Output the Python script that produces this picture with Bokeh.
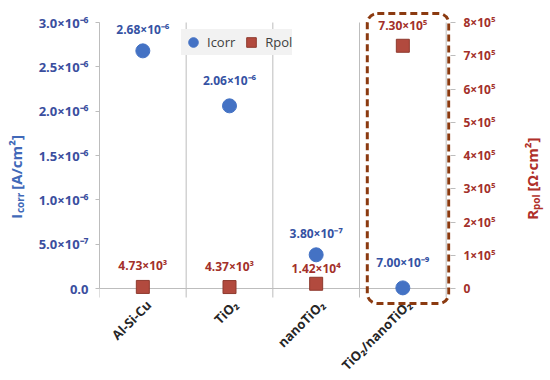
import math
from bokeh.plotting import figure
from bokeh.layouts import row
from bokeh.models import (Range1d, LinearAxis, FixedTicker, ColumnDataSource, Legend,
                          LegendItem, BoxAnnotation)
from bokeh.embed import file_html
from bokeh.resources import INLINE
from bokeh.core.properties import value

# ---------------- data ----------------
categories = ["Al-Si-Cu", "TiO₂", "nanoTiO₂", "TiO₂/nanoTiO₂"]
icorr = [2.68e-6, 2.06e-6, 3.80e-7, 7.00e-9]          # A/cm2
rpol = [4.73e3, 4.37e3, 1.42e4, 7.30e5]               # Ohm*cm2
icorr_ticks = [0.0, 5.0e-7, 1.0e-6, 1.5e-6, 2.0e-6, 2.5e-6, 3.0e-6]
icorr_tick_labels = ["0.0", "5.0×10⁻⁷", "1.0×10⁻⁶", "1.5×10⁻⁶", "2.0×10⁻⁶", "2.5×10⁻⁶", "3.0×10⁻⁶"]
rpol_ticks = [0, 1e5, 2e5, 3e5, 4e5, 5e5, 6e5, 7e5, 8e5]
rpol_tick_labels = ["0", "1×10⁵", "2×10⁵", "3×10⁵", "4×10⁵", "5×10⁵", "6×10⁵", "7×10⁵", "8×10⁵"]
highlight = "TiO₂/nanoTiO₂"

# label offsets (screen px, negative = up)
icorr_dy = [-21, -25, -21, -25]
rpol_dy = [-21, -21, -15, -20]

SUP = str.maketrans("-0123456789", "⁻⁰¹²³⁴⁵⁶⁷⁸⁹")


def sci(v):
    e = math.floor(math.log10(v))
    m = v / 10 ** e
    return f"{m:.2f}×10" + str(e).translate(SUP)


FONT = "Open Sans"
BLUE = "#4472C4"
BLUE_TXT = "#3552A3"
RED = "#B24A3E"
RED_TXT = "#A3302A"
GRID = "#BDBDBD"
H = 380

xs = [i + 0.5 for i in range(len(categories))]
src = ColumnDataSource(dict(
    x=xs, icorr=icorr, rpol=rpol,
    icorr_lab=[sci(v) for v in icorr], rpol_lab=[sci(v) for v in rpol],
    icorr_dy=icorr_dy, rpol_dy=rpol_dy,
))
cat_src = ColumnDataSource(dict(x=xs, y=[0.0] * len(xs), name=categories))

ymax = icorr_ticks[-1]
rmax = rpol_ticks[-1]
# frame: page x 99..450, page y 10..380 ; value 0 at y=288, top tick at y=22
p = figure(width=490, height=H,
           x_range=Range1d(0, 4.05),
           y_range=Range1d(-ymax * 92 / 266, ymax * (1 + 12 / 266)),
           output_backend="svg", toolbar_location=None,
           min_border_left=69, min_border_right=70, min_border_top=10, min_border_bottom=0)
p.extra_y_ranges = {"rpol": Range1d(-rmax * 92 / 266, rmax * (1 + 12 / 266))}
p.outline_line_color = None
p.grid.visible = False
p.background_fill_color = "white"
p.xaxis.visible = False

# category separators + baseline
bounds_x = list(range(len(categories) + 1))
p.segment(x0=bounds_x, x1=bounds_x, y0=[-ymax * 9 / 266] * len(bounds_x), y1=[ymax] * len(bounds_x),
          line_color=GRID, line_width=1)
p.segment(x0=[0], x1=[4.05], y0=[0], y1=[0], line_color=GRID, line_width=1)

# data markers
c = p.scatter("x", "icorr", source=src, marker="circle", size=14, fill_color=BLUE, line_color=BLUE)
s = p.scatter("x", "rpol", source=src, marker="square", size=13, fill_color=RED, line_color="#8E3A2E",
              y_range_name="rpol")

# value labels
p.text("x", "icorr", text="icorr_lab", source=src, y_offset="icorr_dy", text_align="center",
       text_baseline="middle", text_font=value(FONT), text_font_style="bold", text_font_size="12px",
       text_color=BLUE_TXT)
p.text("x", "rpol", text="rpol_lab", source=src, y_offset="rpol_dy", text_align="center",
       text_baseline="middle", text_font=value(FONT), text_font_style="bold", text_font_size="12px",
       text_color=RED_TXT, y_range_name="rpol")

# category labels, rotated, below the baseline
p.text("x", "y", text="name", source=cat_src, angle=math.pi / 4, x_offset=6, y_offset=14,
       text_align="right", text_baseline="middle", text_font=value(FONT), text_font_style="bold",
       text_font_size="13px", text_color="#262626")

# left axis
ly = p.yaxis[0]
ly.ticker = FixedTicker(ticks=icorr_ticks)
ly.major_label_overrides = dict(zip(icorr_ticks, icorr_tick_labels))
ly.bounds = (0, ymax)
ly.axis_line_color = GRID
ly.major_tick_line_color = GRID
ly.major_tick_out = 4
ly.major_tick_in = 0
ly.minor_tick_line_color = None
ly.major_label_standoff = 7
ly.major_label_text_font = FONT
ly.major_label_text_font_style = "bold"
ly.major_label_text_font_size = "13px"
ly.major_label_text_color = "#3A4E9E"

# right axis
ry = LinearAxis(y_range_name="rpol", ticker=FixedTicker(ticks=rpol_ticks), bounds=(0, rmax))
ry.major_label_overrides = dict(zip(rpol_ticks, rpol_tick_labels))
ry.axis_line_color = None
ry.major_tick_line_color = GRID
ry.major_tick_out = 5
ry.major_tick_in = 0
ry.minor_tick_line_color = None
ry.major_label_standoff = 8
ry.major_label_text_font = FONT
ry.major_label_text_font_style = "bold"
ry.major_label_text_font_size = "12px"
ry.major_label_text_color = RED_TXT
p.add_layout(ry, "right")

# highlight box
hi = categories.index(highlight)
p.add_layout(BoxAnnotation(left=hi + 0.09, right=hi + 1.03,
                           top=ymax * (1 + 9 / 266), bottom=-ymax * 15 / 266,
                           fill_alpha=0, line_color="#8B3A10", line_alpha=1, line_width=3,
                           line_dash="7 4", border_radius=10))

# legend
legend = Legend(items=[LegendItem(label="Icorr", renderers=[c]), LegendItem(label="Rpol", renderers=[s])],
                location=(82, 325), orientation="horizontal", background_fill_color="#F2F2F2",
                background_fill_alpha=1, border_line_color=None, label_text_font=FONT,
                label_text_font_size="13px", label_text_color="#404040", glyph_width=24, glyph_height=26,
                label_height=26, padding=8, spacing=4, label_standoff=2, margin=0)
p.add_layout(legend)


# axis titles with subscripts, in narrow side strips (coordinates = page pixels)
def strip(x0, width, parts, color):
    f = figure(width=width, height=H, x_range=Range1d(x0, x0 + width), y_range=Range1d(H, 0),
               output_backend="svg", toolbar_location=None, min_border=0)
    f.axis.visible = False
    f.grid.visible = False
    f.outline_line_color = None
    for txt, x, y, size in parts:
        f.text(x=[x], y=[y], text=[txt], angle=math.pi / 2, text_align="left", text_baseline="middle",
               text_font=value(FONT), text_font_style="bold", text_font_size=size, text_color=color)
    return f


left = strip(0, 30, [("I", 15, 214, "15px"), ("corr", 19, 208, "10px"), ("[A/cm²]", 15, 184, "15px")],
             "#4169B8")
right = strip(520, 30, [("R", 531, 215, "15px"), ("pol", 535, 205, "10px"), ("[Ω·cm²]", 531, 186, "15px")],
              "#B0302A")

layout = row(left, p, right, spacing=0)
open("out.html", "w").write(file_html(layout, INLINE))
